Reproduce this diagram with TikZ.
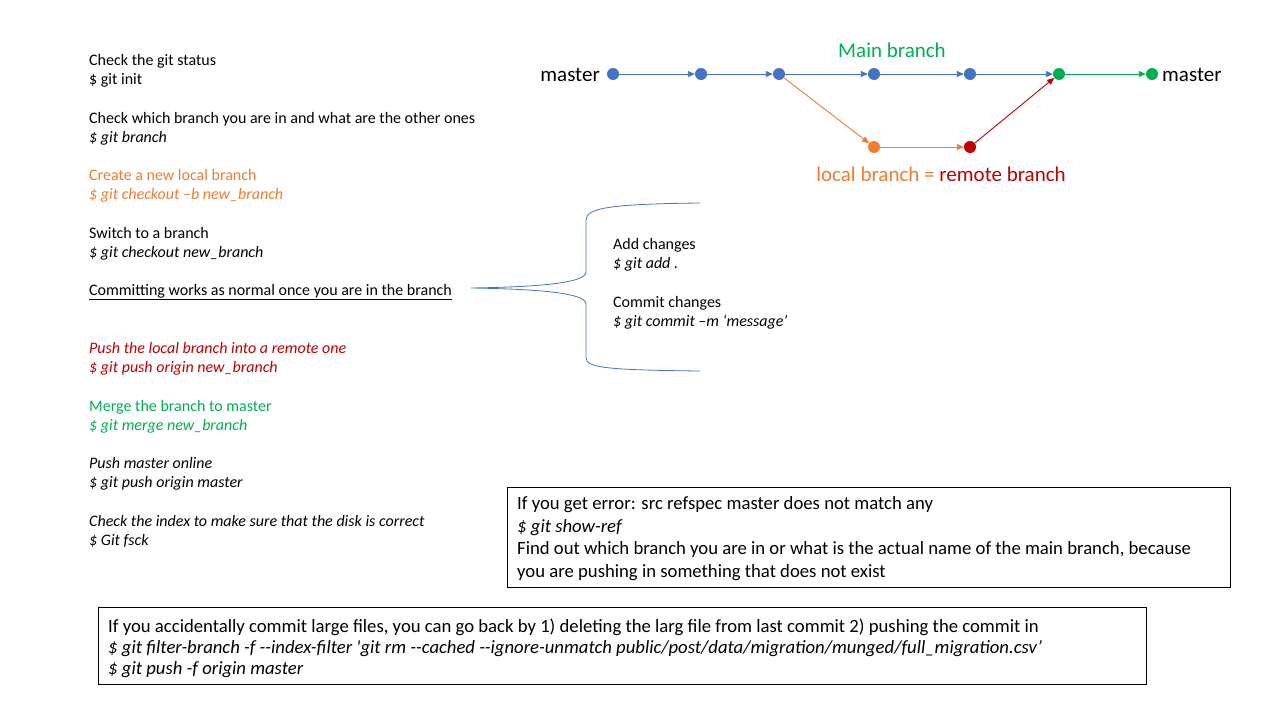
\documentclass[tikz,border=0pt]{standalone}
\usepackage{fontspec}
\setmainfont{Carlito}
\newfontfamily\boxfont{Carlito}
\usetikzlibrary{arrows.meta}

\definecolor{gitblue}{HTML}{4472C4}
\definecolor{gitorange}{HTML}{ED7D31}
\definecolor{gitred}{HTML}{C00000}
\definecolor{gitgreen}{HTML}{00B050}

\tikzset{
  commit/.style={circle,inner sep=0pt,minimum size=12pt},
  flow/.style={-{Triangle[length=7pt,width=6pt]},line width=0.9pt},
  note/.style={anchor=base west,inner sep=0pt,font=\fontsize{16}{19}\selectfont},
  boxline/.style={anchor=base west,inner sep=0pt,font=\boxfont\fontsize{18.7}{22}\selectfont},
  label/.style={inner sep=0pt,font=\fontsize{21}{25}\selectfont},
  tipbox/.style={draw,line width=0.8pt,anchor=north west,inner sep=0pt},
}

\begin{document}
\begin{tikzpicture}[x=1pt,y=-1pt]
\useasboundingbox[fill=white] (0,0) rectangle (1280,720);

% left column of notes
\node[note] (status) at (89,65.5) {Check the git status};
\node[note] (init) at (89,84.5) {\$ git init};
\node[note] (which) at (89,123.5) {Check which branch you are in and what are the other ones};
\node[note] (branch) at (89,142.5) {\itshape \$ git branch};
\node[note,text=gitorange] (create) at (89,180.5) {Create a new local branch};
\node[note,text=gitorange] (checkoutb) at (89,199.5) {\itshape \$ git checkout –b new\_branch};
\node[note] (switch) at (89,238.5) {Switch to a branch};
\node[note] (checkout) at (89,257.5) {\itshape \$ git checkout new\_branch};
\node[note] (committing) at (89,295.5) {\underline{Committing works as normal once you are in the branch}};
\node[note,text=gitred] (push) at (89,353.5) {\itshape Push the local branch into a remote one};
\node[note,text=gitred] (pushorigin) at (89,372.5) {\itshape \$ git push origin new\_branch};
\node[note,text=gitgreen] (merge) at (89,411.5) {Merge the branch to master};
\node[note,text=gitgreen] (mergecmd) at (89,430.5) {\itshape \$ git merge new\_branch};
\node[note] (online) at (89,468.5) {\itshape Push master online};
\node[note] (pushmaster) at (89,487.5) {\itshape \$ git push origin master};
\node[note] (index) at (89,526.5) {\itshape Check the index to make sure that the disk is correct};
\node[note] (fsck) at (89,545.5) {\itshape \$ Git fsck};

% brace with the commit steps
\coordinate (bracetip) at (471,288);
\draw[gitblue,line width=0.8pt] (700,203) .. controls (610,204) and (586,208) .. (586,220) -- (586,272)
  .. controls (586,284) and (530,287) .. (bracetip)
  .. controls (530,289) and (586,292) .. (586,304) -- (586,358)
  .. controls (586,368) and (610,370) .. (700,371);
\node[note] (add) at (613,249) {Add changes};
\node[note] (addcmd) at (613,268) {\itshape \$ git add .};
\node[note] (commit) at (613,307) {Commit changes};
\node[note] (commitcmd) at (613,326) {\itshape \$ git commit –m ‘message’};

% branch graph
\node[commit,fill=gitblue] (c1) at (613,74) {};
\node[commit,fill=gitblue] (c2) at (701,74) {};
\node[commit,fill=gitblue] (c3) at (779,74) {};
\node[commit,fill=gitblue] (c4) at (874,74) {};
\node[commit,fill=gitblue] (c5) at (970,74) {};
\node[commit,fill=gitgreen] (m1) at (1059,74) {};
\node[commit,fill=gitgreen] (m2) at (1152,74) {};
\node[commit,fill=gitorange] (l1) at (874,147) {};
\node[commit,fill=gitred] (r1) at (970,147) {};

\draw[flow,gitblue] (c1) -- (c2);
\draw[flow,gitblue] (c2) -- (c3);
\draw[flow,gitblue] (c3) -- (c4);
\draw[flow,gitblue] (c4) -- (c5);
\draw[flow,gitblue] (c5) -- (m1);
\draw[flow,gitgreen] (m1) -- (m2);
\draw[flow,gitorange] (c3) -- (l1);
\draw[flow,gitorange] (l1) -- (r1);
\draw[flow,gitred] (r1) -- (m1);

\node[label,anchor=east] (masterin) at (600,75) {master};
\node[label,anchor=west] (masterout) at (1162,75) {master};
\node[label,text=gitgreen] (mainlbl) at (892,50) {Main branch};
\node[label] (locallbl) at (941,174) {\textcolor{gitorange}{local branch =} \textcolor{gitred}{remote branch}};

% tip boxes
\node[tipbox,minimum width=723pt,minimum height=100pt] (errorbox) at (507,487) {};
\node[boxline] (err1) at (517,509) {If you get error: src refspec master does not match any};
\node[boxline] (err2) at (517,532) {\itshape \$ git show-ref};
\node[boxline] (err3) at (517,554.5) {Find out which branch you are in or what is the actual name of the main branch, because};
\node[boxline] (err4) at (517,577) {you are pushing in something that does not exist};

\node[tipbox,minimum width=1048pt,minimum height=77pt] (largebox) at (98,607) {};
\node[boxline] (large1) at (108,632.5) {If you accidentally commit large files, you can go back by 1) deleting the larg file from last commit 2) pushing the commit in};
\node[boxline] (large2) at (108,653.5) {\itshape \$ git filter-branch -f -{}-index-filter 'git rm -{}-cached -{}-ignore-unmatch public/post/data/migration/munged/full\_migration.csv’};
\node[boxline] (large3) at (108,674.5) {\itshape \$ git push -f origin master};
\end{tikzpicture}
\end{document}
